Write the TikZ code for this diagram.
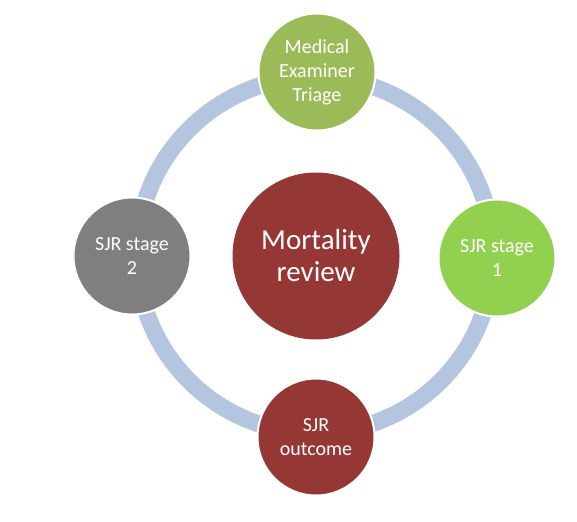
\documentclass[tikz,border=0pt]{standalone}
\usepackage{fontspec}
\setmainfont{Carlito}
\definecolor{ringblue}{RGB}{180,197,224}
\definecolor{olivegreen}{RGB}{155,187,89}
\definecolor{limegreen}{RGB}{146,208,80}
\definecolor{midgray}{RGB}{127,127,127}
\definecolor{darkred}{RGB}{149,55,53}
\begin{document}
\begin{tikzpicture}[x=1pt,y=-1pt,
  stagebox/.style={circle,minimum size=117pt,inner sep=0pt,draw=white,line width=2pt,
    text=white,align=center,font=\fontsize{20}{24}\selectfont},
  hubbox/.style={circle,minimum size=167pt,inner sep=0pt,fill=darkred,
    text=white,align=center,font=\fontsize{29}{32}\selectfont}]
\useasboundingbox (0,0) rectangle (577,521);
% cycle ring behind the stages
\draw[ringblue,line width=17pt] (315,255) circle[radius=178];
% central hub
\node[hubbox] (hub) at (316,256) {Mortality\\review};
% four stages on the ring
\node[stagebox,fill=olivegreen] (triage) at (317,72) {Medical\\Examiner\\Triage};
\node[stagebox,fill=limegreen] (stage1) at (497,258) {SJR stage\\1};
\node[stagebox,fill=darkred] (outcome) at (316,437) {SJR\\outcome};
\node[stagebox,fill=midgray] (stage2) at (132,256) {SJR stage\\2};
\end{tikzpicture}
\end{document}
